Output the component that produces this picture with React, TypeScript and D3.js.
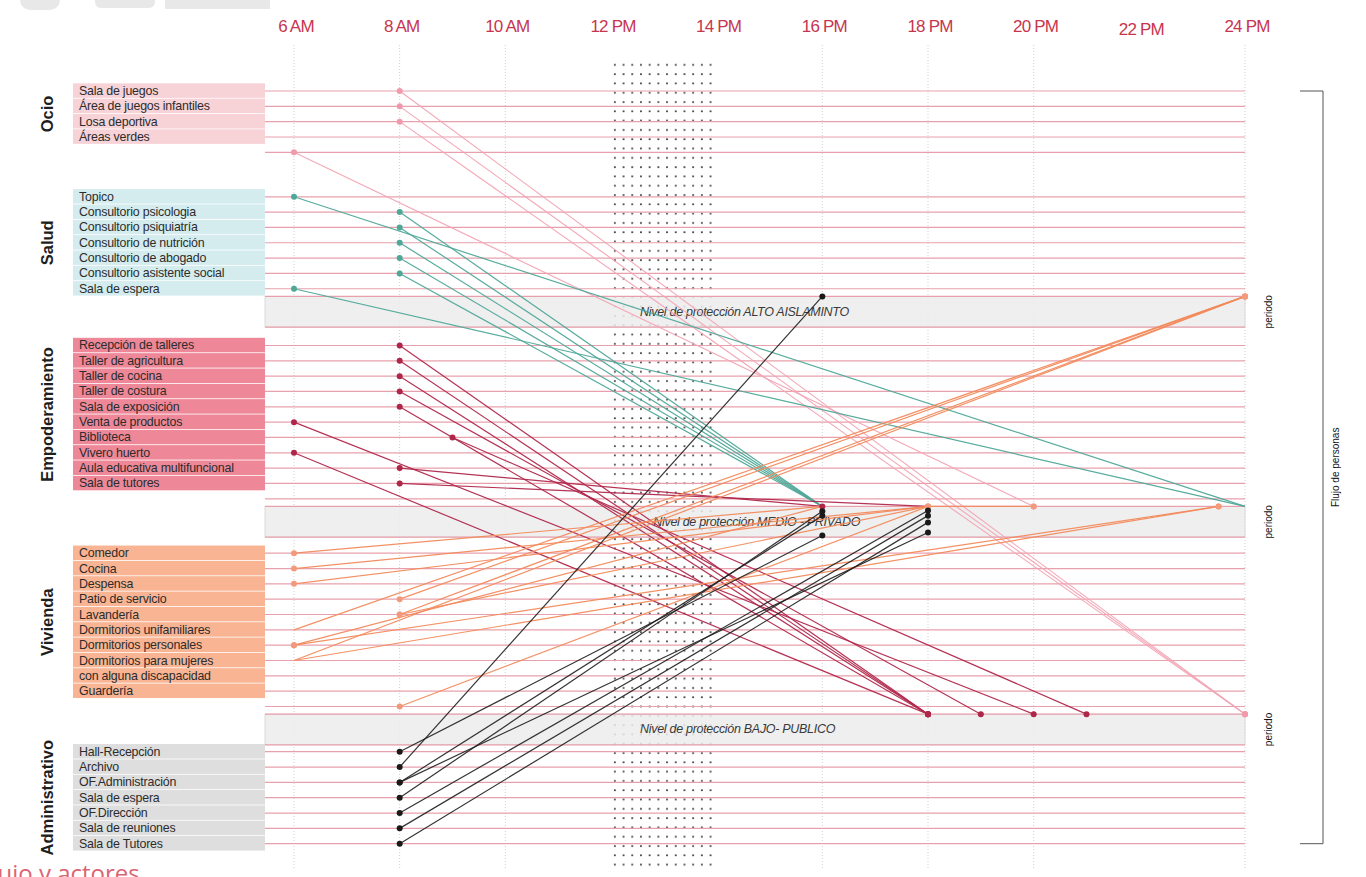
import React, { useRef, useEffect } from "react";
import * as d3 from "d3";

// horizontal time axis
const hours = [6, 8, 10, 12, 14, 16, 18, 20, 22, 24];
const hourLabels = ["6 AM", "8 AM", "10 AM", "12 PM", "14 PM", "16 PM", "18 PM", "20 PM", "22 PM", "24 PM"];

// left side: groups and their rooms ("" = line with no label)
const groupNames = ["Ocio", "Salud", "Empoderamiento", "Vivienda", "Administrativo"];
const ocioRows = ["Sala de juegos", "Área de juegos infantiles", "Losa deportiva", "Áreas verdes", ""];
const saludRows = [
  "Topico",
  "Consultorio psicologia",
  "Consultorio psiquiatría",
  "Consultorio de nutrición",
  "Consultorio de abogado",
  "Consultorio asistente social",
  "Sala de espera",
];
const empoderamientoRows = [
  "Recepción de talleres",
  "Taller de agricultura",
  "Taller de cocina",
  "Taller de costura",
  "Sala de exposición",
  "Venta de productos",
  "Biblioteca",
  "Vivero huerto",
  "Aula educativa multifuncional",
  "Sala de tutores",
  "",
];
const viviendaRows = [
  "Comedor",
  "Cocina",
  "Despensa",
  "Patio de servicio",
  "Lavandería",
  "Dormitorios unifamiliares",
  "Dormitorios personales",
  "Dormitorios para mujeres",
  "con alguna discapacidad",
  "Guardería",
  "",
];
const administrativoRows = [
  "Hall-Recepción",
  "Archivo",
  "OF.Administración",
  "Sala de espera",
  "OF.Dirección",
  "Sala de reuniones",
  "Sala de Tutores",
];
const groupRows = [ocioRows, saludRows, empoderamientoRows, viviendaRows, administrativoRows];

// protection levels, each one sits under a group
const levelLabels = [
  "Nivel de protección ALTO  AISLAMINTO",
  "Nivel de protección MEDIO - PRIVADO",
  "Nivel de protección BAJO- PUBLICO",
];
const levelAfterGroup = [1, 2, 3];

// flows: row -> from hour, to hour, level, depth inside the level band
interface Flow {
  row: number;
  from: number;
  to: number;
  level: number;
  depth?: number;
  via?: number;
  dot?: boolean;
  endDot?: boolean;
}

const ocioFlows: Flow[] = [
  { row: 0, from: 8, to: 24, level: 2 },
  { row: 1, from: 8, to: 24, level: 2 },
  { row: 2, from: 8, to: 24, level: 2 },
  { row: 4, from: 6, to: 20, level: 1 },
];
const saludFlows: Flow[] = [
  { row: 0, from: 6, to: 24, level: 1, endDot: false },
  { row: 1, from: 8, to: 16, level: 1, endDot: false },
  { row: 2, from: 8, to: 16, level: 1, endDot: false },
  { row: 3, from: 8, to: 16, level: 1, endDot: false },
  { row: 4, from: 8, to: 16, level: 1, endDot: false },
  { row: 5, from: 8, to: 16, level: 1, endDot: false },
  { row: 6, from: 6, to: 24, level: 1, endDot: false },
];
const empoderamientoFlows: Flow[] = [
  { row: 0, from: 8, to: 18, level: 2 },
  { row: 1, from: 8, to: 18, level: 2 },
  { row: 2, from: 8, to: 18, level: 2 },
  { row: 3, from: 8, to: 19, level: 2 },
  { row: 4, from: 8, to: 18, level: 2 },
  { row: 5, from: 6, to: 20, level: 2 },
  { row: 6, from: 9, to: 21, level: 2 },
  { row: 7, from: 6, to: 18, level: 2 },
  { row: 8, from: 8, to: 16, level: 1 },
  { row: 9, from: 8, to: 18, level: 1, endDot: false },
];
const viviendaFlows: Flow[] = [
  { row: 0, from: 6, to: 16, level: 1, endDot: false },
  { row: 1, from: 6, to: 18, level: 1 },
  { row: 2, from: 6, to: 20, level: 1, via: 18 },
  { row: 3, from: 8, to: 24, level: 0 },
  { row: 4, from: 8, to: 24, level: 0 },
  { row: 4, from: 8, to: 18, level: 1 },
  { row: 5, from: 6, to: 24, level: 0, dot: false },
  { row: 6, from: 6, to: 23.5, level: 1 },
  { row: 6, from: 6, to: 16, level: 1, endDot: false },
  { row: 7, from: 6, to: 23.5, level: 1, dot: false },
  { row: 7, from: 6, to: 24, level: 0, dot: false },
  { row: 10, from: 8, to: 18, level: 1 },
];
const administrativoFlows: Flow[] = [
  { row: 0, from: 8, to: 16, level: 1, depth: 0.95 },
  { row: 1, from: 8, to: 16, level: 0 },
  { row: 2, from: 8, to: 16, level: 1, depth: 0.3 },
  { row: 2, from: 8, to: 18, level: 1, depth: 0.85 },
  { row: 3, from: 8, to: 16, level: 1, depth: 0.16 },
  { row: 4, from: 8, to: 18, level: 1, depth: 0.13 },
  { row: 5, from: 8, to: 18, level: 1, depth: 0.3 },
  { row: 6, from: 8, to: 18, level: 1, depth: 0.52 },
];
const groupFlows = [ocioFlows, saludFlows, empoderamientoFlows, viviendaFlows, administrativoFlows];

// styles / layout
const lineColors = ["#f2a3b3", "#4ea898", "#b0284c", "#f28a5c", "#1e1e1e"];
const dotColors = ["#f29aac", "#4ea898", "#ae2749", "#f39a7c", "#1a1a1a"];
const boxColors = ["#f7d2d7", "#d5ecef", "#ee8898", "#f8b493", "#dedede"];
const groupStart = [0, 6.9, 16.6, 30.15, 43.1];
const levelTextHour = [12.55, 12.8, 12.55];

const W = 1366;
const H = 877;
const FONT = "'Liberation Sans', Arial, sans-serif";

const Chart = () => {
  const ref = useRef<SVGSVGElement | null>(null);

  useEffect(() => {
    if (!ref.current) return;
    const svg = d3.select(ref.current);
    svg.selectAll("*").remove();

    const x = d3.scaleLinear().domain([6, 24]).range([294, 1245]);
    const slot = d3.scaleLinear().domain([0, 1]).range([91, 106.33]);
    const step = slot(1) - slot(0);
    const left = 265;
    const right = x(24);

    const rowY = (g: number, r: number) => slot(groupStart[g] + r);
    const bandTop = (l: number) => {
      const g = levelAfterGroup[l];
      return slot(groupStart[g] + groupRows[g].length - 1 + 0.5);
    };
    const bandH = 2 * step;

    const defs = svg.append("defs");
    const pat = defs
      .append("pattern")
      .attr("id", "dots")
      .attr("patternUnits", "userSpaceOnUse")
      .attr("x", x(12))
      .attr("y", 60)
      .attr("width", 8.7)
      .attr("height", 9.3);
    pat.append("rect").attr("x", 3).attr("y", 4).attr("width", 1.7).attr("height", 1.7).attr("fill", "#333");

    svg.append("rect").attr("width", W).attr("height", H).attr("fill", "#fff");

    // faint header blobs at the very top
    const blobs = svg.append("g").attr("fill", "#e8e8e8");
    blobs.append("rect").attr("x", 20).attr("y", -10).attr("width", 40).attr("height", 20).attr("rx", 10);
    blobs.append("rect").attr("x", 95).attr("y", -10).attr("width", 60).attr("height", 18).attr("rx", 6);
    blobs.append("rect").attr("x", 165).attr("y", -10).attr("width", 105).attr("height", 19);

    // dotted 12-14 block
    svg
      .append("rect")
      .attr("x", x(12))
      .attr("y", 60)
      .attr("width", x(14) - x(12))
      .attr("height", 810)
      .attr("fill", "url(#dots)");

    // vertical guides
    svg
      .append("g")
      .selectAll("line")
      .data(hours.filter((h) => h !== 12 && h !== 14 && h !== 22))
      .join("line")
      .attr("x1", (d) => x(d))
      .attr("x2", (d) => x(d))
      .attr("y1", 45)
      .attr("y2", 870)
      .attr("stroke", "#c4c4c4")
      .attr("stroke-width", 0.8)
      .attr("stroke-dasharray", "1,2");

    // header ticks
    svg
      .append("g")
      .selectAll("text")
      .data(hours)
      .join("text")
      .attr("x", (d) => x(d) + 2)
      .attr("y", (d) => (d === 22 ? 35 : 32))
      .attr("text-anchor", "middle")
      .attr("font-family", FONT)
      .attr("font-size", 17)
      .attr("letter-spacing", -0.8)
      .attr("fill", "#c7354f")
      .text((d, i) => hourLabels[i]);

    // level bands
    const bands = svg.append("g");
    levelLabels.forEach((lab, l) => {
      const t = bandTop(l);
      bands
        .append("rect")
        .attr("x", left)
        .attr("y", t)
        .attr("width", right - left)
        .attr("height", bandH)
        .attr("fill", "#ececec")
        .attr("fill-opacity", 0.85)
        .attr("stroke", "#d4d4d4")
        .attr("stroke-width", 0.8);
    });

    // row lines
    const rowLines: number[] = [];
    groupRows.forEach((rows, g) => rows.forEach((_, r) => rowLines.push(rowY(g, r))));
    levelLabels.forEach((_, l) => {
      rowLines.push(bandTop(l));
      rowLines.push(bandTop(l) + bandH);
    });
    svg
      .append("g")
      .selectAll("line")
      .data(rowLines)
      .join("line")
      .attr("x1", left)
      .attr("x2", right)
      .attr("y1", (d) => d)
      .attr("y2", (d) => d)
      .attr("stroke", "#e9a0ad")
      .attr("stroke-width", 1.2);

    // band texts
    levelLabels.forEach((lab, l) => {
      svg
        .append("text")
        .attr("x", x(levelTextHour[l]))
        .attr("y", bandTop(l) + bandH / 2 + 4)
        .attr("font-family", FONT)
        .attr("font-size", 12.5)
        .attr("font-style", "italic")
        .attr("letter-spacing", -0.3)
        .attr("fill", "#3a3a3a")
        .text(lab);
    });

    // label boxes and labels
    const labels = svg.append("g");
    groupRows.forEach((rows, g) => {
      rows.forEach((name, r) => {
        if (!name) return;
        const cy = rowY(g, r);
        labels
          .append("rect")
          .attr("x", 73)
          .attr("y", cy - step / 2)
          .attr("width", left - 73)
          .attr("height", step - 0.8)
          .attr("fill", boxColors[g]);
        labels
          .append("text")
          .attr("x", 79)
          .attr("y", cy + 4)
          .attr("font-family", FONT)
          .attr("font-size", 12.4)
          .attr("letter-spacing", -0.2)
          .attr("fill", "#2c2c2c")
          .text(name);
      });
      const named = rows.map((n, i) => (n ? i : -1)).filter((i) => i >= 0);
      const cy = (rowY(g, named[0]) + rowY(g, named[named.length - 1])) / 2;
      labels
        .append("text")
        .attr("transform", `translate(53,${cy}) rotate(-90)`)
        .attr("text-anchor", "middle")
        .attr("font-family", FONT)
        .attr("font-size", 16.5)
        .attr("font-weight", "bold")
        .attr("fill", "#1e1e1e")
        .text(groupNames[g]);
    });

    // flows
    const flowG = svg.append("g").attr("fill", "none");
    const dotG = svg.append("g");
    groupFlows.forEach((flows, g) => {
      flows.forEach((f) => {
        const y0 = rowY(g, f.row);
        const y1 = bandTop(f.level) + (f.depth || 0) * bandH;
        const pts: [number, number][] = [[x(f.from), y0]];
        if (f.via !== undefined) pts.push([x(f.via), y1]);
        pts.push([x(f.to), y1]);
        flowG
          .append("path")
          .attr("d", d3.line()(pts) as string)
          .attr("stroke", lineColors[g])
          .attr("stroke-width", g === 0 ? 1.1 : 1.2)
          .attr("stroke-opacity", g === 4 ? 0.9 : 0.95);
        if (f.dot !== false) {
          dotG
            .append("circle")
            .attr("cx", x(f.from))
            .attr("cy", y0)
            .attr("r", 3)
            .attr("fill", dotColors[g]);
        }
        if (f.endDot !== false) {
          dotG
            .append("circle")
            .attr("cx", x(f.to))
            .attr("cy", y1)
            .attr("r", 3)
            .attr("fill", dotColors[g]);
        }
      });
    });

    // right side: periodo + bracket
    levelLabels.forEach((_, l) => {
      svg
        .append("text")
        .attr("transform", `translate(1272,${bandTop(l) + bandH / 2}) rotate(-90)`)
        .attr("text-anchor", "middle")
        .attr("font-family", FONT)
        .attr("font-size", 10)
        .attr("fill", "#111")
        .text("periodo");
    });
    const yTop = rowY(0, 0);
    const yBot = rowY(4, administrativoRows.length - 1);
    svg
      .append("path")
      .attr("d", `M1300,${yTop}H1323V${yBot}H1300`)
      .attr("fill", "none")
      .attr("stroke", "#555")
      .attr("stroke-width", 1);
    svg
      .append("text")
      .attr("transform", `translate(1339,${(yTop + yBot) / 2}) rotate(-90)`)
      .attr("text-anchor", "middle")
      .attr("font-family", FONT)
      .attr("font-size", 10)
      .attr("fill", "#111")
      .text("Flujo de personas");

    // cut-off caption at the bottom, as in the source page
    svg
      .append("text")
      .attr("x", -21)
      .attr("y", 882)
      .attr("font-family", "'Open Sans', sans-serif")
      .attr("font-size", 24)
      .attr("fill", "#db6473")
      .text("Flujo y actores");
  }, []);

  return <svg ref={ref} width={W} height={H} style={{ position: "absolute", left: 0, top: 0 }} />;
};

export default function App() {
  return <Chart />;
}
